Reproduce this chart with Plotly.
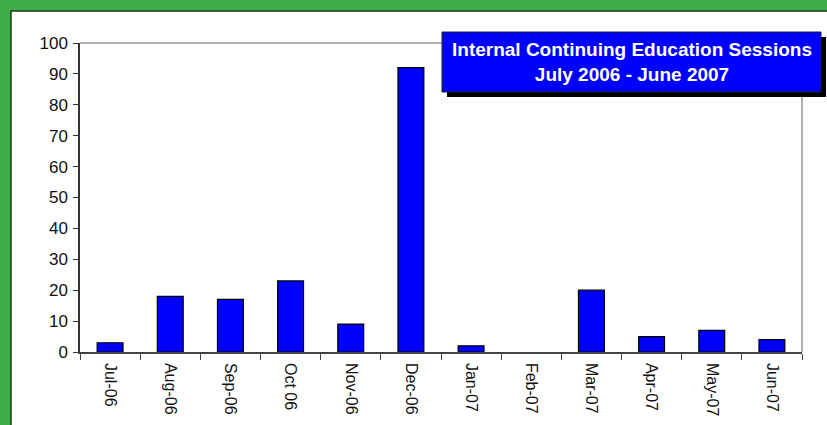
import plotly.graph_objects as go

months = ["Jul-06", "Aug-06", "Sep-06", "Oct 06", "Nov-06", "Dec-06",
          "Jan-07", "Feb-07", "Mar-07", "Apr-07", "May-07", "Jun-07"]
sessions = [3, 18, 17, 23, 9, 92, 2, 0, 20, 5, 7, 4]
y_ticks = list(range(0, 101, 10))

# plot area in pixels: x 80..802, y 43..352
L, R, T, B = 80, 802, 43, 352
W, H = 827, 425


def px_x(px):
    return (px - L) / (R - L)


def px_y(py):
    return (B - py) / (B - T)


fig = go.Figure()
fig.add_trace(go.Bar(
    x=months,
    y=sessions,
    marker=dict(
        color="#0000FF",
        line=dict(color="#000000", width=[1.2 if v else 0 for v in sessions]),
    ),
    width=0.43,
    showlegend=False,
))

shapes = [
    # white sheet over green frame
    dict(type="rect", xref="paper", yref="paper", layer="below",
         x0=px_x(11), x1=px_x(840), y0=px_y(440), y1=px_y(11),
         fillcolor="white", line=dict(color="#1a3a1a", width=1.5)),
    # top and right plot border
    dict(type="line", xref="paper", yref="paper", x0=0, x1=1, y0=1, y1=1,
         line=dict(color="#999999", width=1.5)),
    dict(type="line", xref="paper", yref="paper", x0=1, x1=1, y0=0, y1=1,
         line=dict(color="#999999", width=1.5)),
    # title box shadow + box
    dict(type="rect", xref="paper", yref="paper", layer="above",
         x0=px_x(447), x1=px_x(826), y0=px_y(97), y1=px_y(37),
         fillcolor="black", line=dict(width=0)),
    dict(type="rect", xref="paper", yref="paper", layer="above",
         x0=px_x(442), x1=px_x(821), y0=px_y(92), y1=px_y(32),
         fillcolor="#0000FF", line=dict(color="#222222", width=1)),
]

fig.add_annotation(
    xref="paper", yref="paper",
    x=px_x(631.5), y=px_y(61.5),
    xanchor="center", yanchor="middle",
    text="<b>Internal Continuing Education Sessions<br>July 2006 - June 2007</b>",
    showarrow=False,
    font=dict(family="Liberation Sans, Arial", size=19, color="white"),
    align="center",
)

fig.update_layout(
    width=W,
    height=H,
    margin=dict(l=L, r=W - R, t=T, b=H - B),
    paper_bgcolor="#3FAE49",
    plot_bgcolor="rgba(0,0,0,0)",
    shapes=shapes,
    font=dict(family="Liberation Sans, Arial", size=16, color="#111111"),
)
fig.update_xaxes(
    automargin=False,
    tickangle=90,
    tickson="boundaries",
    ticks="outside",
    ticklen=6,
    tickcolor="#444444",
    ticklabelstandoff=6,
    showline=True,
    linecolor="#444444",
    linewidth=1.5,
    showgrid=False,
    range=[-0.5, 11.5],
)
fig.update_yaxes(
    automargin=False,
    range=[0, 100],
    tickvals=y_ticks,
    ticks="outside",
    ticklen=5,
    tickcolor="#333333",
    tickfont=dict(size=17),
    ticklabelstandoff=2,
    showline=True,
    linecolor="#333333",
    linewidth=1.5,
    showgrid=False,
    zeroline=False,
)

fig.write_html(
    "out.html",
    config={"displayModeBar": False},
    post_script="document.body.style.margin='0px';",
)
